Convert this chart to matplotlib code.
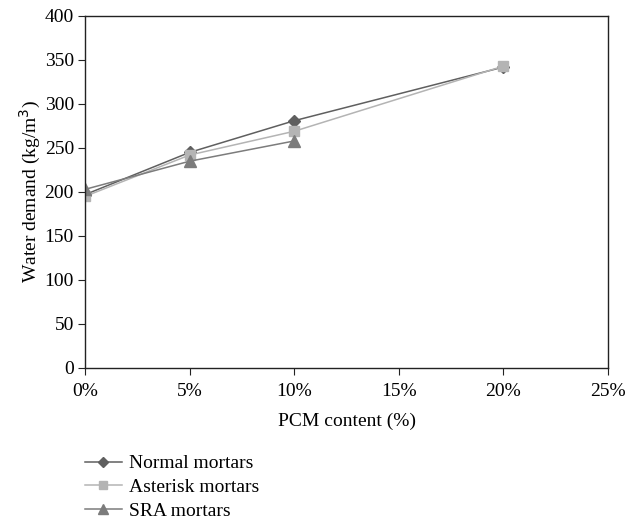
import matplotlib.pyplot as plt
from matplotlib.ticker import FuncFormatter

plt.rcParams['font.family'] = ['Liberation Serif', 'DejaVu Serif']

# PCM content (%) and water demand (kg/m3)
pcm = [0, 5, 10, 20]
normal = [197, 245, 281, 342]
asterisk = [195, 242, 269, 343]
sra_pcm = [0, 5, 10]
sra = [203, 235, 258]

fig = plt.figure(figsize=(6.42, 5.26), dpi=100)
ax = fig.add_axes([85 / 642, 1 - 368 / 526, (608 - 85) / 642, (368 - 16) / 526])

ax.plot(pcm, normal, color='#5f5f5f', lw=1.1, marker='D', ms=6, label='Normal mortars')
ax.plot(pcm, asterisk, color='#b4b4b4', lw=1.1, marker='s', ms=7.5, label='Asterisk mortars')
ax.plot(sra_pcm, sra, color='#7c7c7c', lw=1.1, marker='^', ms=8, label='SRA mortars')

ax.set_xlim(0, 25)
ax.set_ylim(0, 400)
ax.set_xticks([0, 5, 10, 15, 20, 25])
ax.set_yticks(range(0, 401, 50))
ax.xaxis.set_major_formatter(FuncFormatter(lambda v, p: f'{v:.0f}%'))
ax.tick_params(labelsize=14, direction='out', length=5, color='#222222', pad=3)
ax.tick_params(axis='x', pad=6)
for s in ax.spines.values():
    s.set_color('#222222')
    s.set_linewidth(1.0)

ax.set_xlabel('PCM content (%)', fontsize=14, labelpad=9)
ax.set_ylabel('Water demand (kg/m$^3$)', fontsize=14, labelpad=1)

fig.legend(loc='upper left', bbox_to_anchor=(75 / 642, 1 - 445 / 526), frameon=False,
           fontsize=14, handlelength=1.9, handletextpad=0.4, labelspacing=0.32,
           borderpad=0, markerscale=0.85)

fig.savefig('out.png', dpi=100)
